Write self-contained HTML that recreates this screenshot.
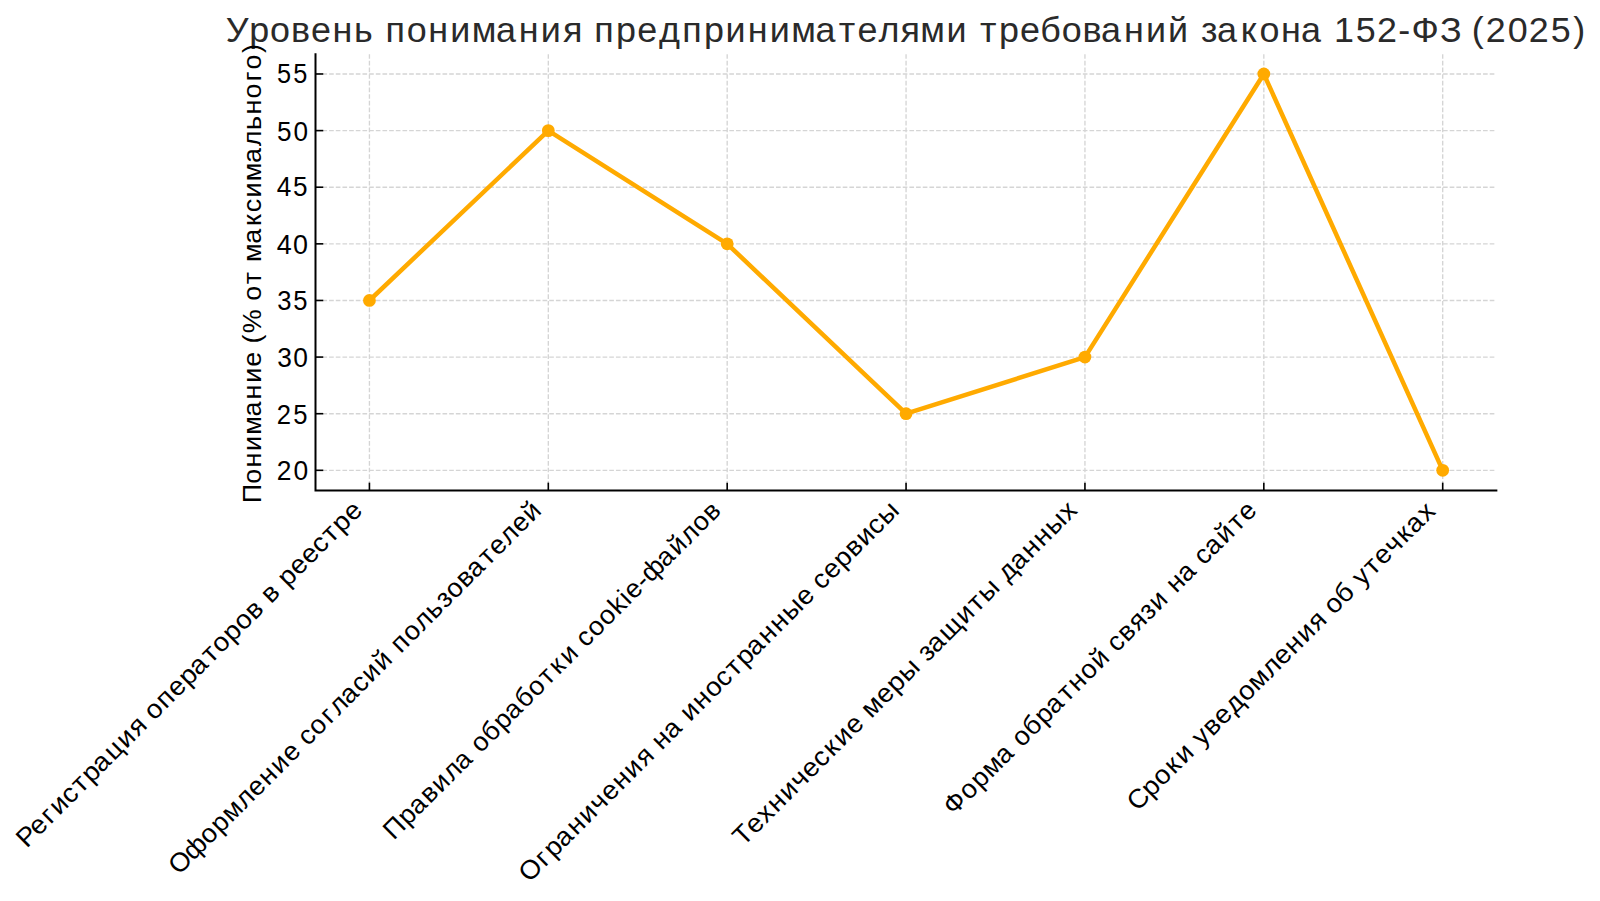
<!DOCTYPE html><html><head><meta charset="utf-8"><title>152-ФЗ</title><style>html,body{margin:0;padding:0;background:#fff;width:1600px;height:901px;overflow:hidden}svg{display:block}text{font-family:"Liberation Sans",sans-serif}</style></head><body>
<svg width="1600" height="901" viewBox="0 0 1600 901">
<rect width="1600" height="901" fill="#fff"/>
<g stroke="#d5d5d5" stroke-width="1.35" stroke-dasharray="4.66 2.01" fill="none">
<line x1="315.77" y1="470.32" x2="1496.36" y2="470.32"/>
<line x1="315.77" y1="413.70" x2="1496.36" y2="413.70"/>
<line x1="315.77" y1="357.08" x2="1496.36" y2="357.08"/>
<line x1="315.77" y1="300.46" x2="1496.36" y2="300.46"/>
<line x1="315.77" y1="243.84" x2="1496.36" y2="243.84"/>
<line x1="315.77" y1="187.22" x2="1496.36" y2="187.22"/>
<line x1="315.77" y1="130.60" x2="1496.36" y2="130.60"/>
<line x1="315.77" y1="73.98" x2="1496.36" y2="73.98"/>
<line x1="369.43" y1="54.16" x2="369.43" y2="490.14"/>
<line x1="548.31" y1="54.16" x2="548.31" y2="490.14"/>
<line x1="727.19" y1="54.16" x2="727.19" y2="490.14"/>
<line x1="906.06" y1="54.16" x2="906.06" y2="490.14"/>
<line x1="1084.94" y1="54.16" x2="1084.94" y2="490.14"/>
<line x1="1263.82" y1="54.16" x2="1263.82" y2="490.14"/>
<line x1="1442.70" y1="54.16" x2="1442.70" y2="490.14"/>
</g>
<polyline points="369.43,300.46 548.31,130.60 727.19,243.84 906.06,413.70 1084.94,357.08 1263.82,73.98 1442.70,470.32" fill="none" stroke="#ffaa00" stroke-width="4.5" stroke-linejoin="round" stroke-linecap="square"/>
<circle cx="369.43" cy="300.46" r="6.4" fill="#ffaa00"/>
<circle cx="548.31" cy="130.60" r="6.4" fill="#ffaa00"/>
<circle cx="727.19" cy="243.84" r="6.4" fill="#ffaa00"/>
<circle cx="906.06" cy="413.70" r="6.4" fill="#ffaa00"/>
<circle cx="1084.94" cy="357.08" r="6.4" fill="#ffaa00"/>
<circle cx="1263.82" cy="73.98" r="6.4" fill="#ffaa00"/>
<circle cx="1442.70" cy="470.32" r="6.4" fill="#ffaa00"/>
<g stroke="#000" fill="none">
<path d="M315.50 54.16 V490.50 H1496.36" stroke-width="2" stroke-linejoin="miter" stroke-linecap="square"/>
<line x1="315.77" y1="470.32" x2="323.27" y2="470.32" stroke-width="1.6"/>
<line x1="315.77" y1="413.70" x2="323.27" y2="413.70" stroke-width="1.6"/>
<line x1="315.77" y1="357.08" x2="323.27" y2="357.08" stroke-width="1.6"/>
<line x1="315.77" y1="300.46" x2="323.27" y2="300.46" stroke-width="1.6"/>
<line x1="315.77" y1="243.84" x2="323.27" y2="243.84" stroke-width="1.6"/>
<line x1="315.77" y1="187.22" x2="323.27" y2="187.22" stroke-width="1.6"/>
<line x1="315.77" y1="130.60" x2="323.27" y2="130.60" stroke-width="1.6"/>
<line x1="315.77" y1="73.98" x2="323.27" y2="73.98" stroke-width="1.6"/>
<line x1="369.43" y1="490.14" x2="369.43" y2="482.64" stroke-width="1.6"/>
<line x1="548.31" y1="490.14" x2="548.31" y2="482.64" stroke-width="1.6"/>
<line x1="727.19" y1="490.14" x2="727.19" y2="482.64" stroke-width="1.6"/>
<line x1="906.06" y1="490.14" x2="906.06" y2="482.64" stroke-width="1.6"/>
<line x1="1084.94" y1="490.14" x2="1084.94" y2="482.64" stroke-width="1.6"/>
<line x1="1263.82" y1="490.14" x2="1263.82" y2="482.64" stroke-width="1.6"/>
<line x1="1442.70" y1="490.14" x2="1442.70" y2="482.64" stroke-width="1.6"/>
</g>
<text transform="translate(227.48 41.64) scale(1.0182 1)" font-size="35.26" fill="#2a2a2a" x="-1.61 21.26 41.81 62.31 81.92 103.05 124.32 143.68 155.21 176.03 197.16 218.75 239.85 263.67 286.09 307.68 329.42 348.76 360.29 381.69 402.36 423.69 446.70 468.10 489.23 511.05 532.64 553.74 577.56 600.45 618.73 639.42 661.06 680.44 706.10 727.16 738.97 757.71 778.38 798.24 819.29 839.78 858.02 880.44 902.03 923.67 944.73 956.03 971.76 995.05 1013.52 1034.65 1054.41 1076.07 1086.86 1108.09 1128.96 1149.94 1162.75 1190.80 1212.22 1222.14 1235.74 1257.36 1278.11 1299.60 1321.65" y="0">Уровень понимания предпринимателями требований закона 152-ФЗ (2025)</text>
<text transform="translate(260.99 503.17) rotate(-90) scale(1.0155 1)" font-size="26.52" fill="#000000" x="-0.12 19.19 35.13 51.41 67.33 85.29 102.19 118.48 134.44 149.80 157.29 167.41 191.44 199.42 215.71 229.41 237.43 255.39 272.96 286.55 301.14 317.05 335.01 351.59 367.59 382.76 398.61 415.41 427.16 443.37" y="0">Понимание (% от максимального)</text>
<text transform="translate(276.39 479.58) scale(0.9589 1)" font-size="27.54" fill="#000000" x="0.44 17.72" y="0">20</text>
<text transform="translate(276.16 423.58) scale(0.9308 1)" font-size="27.54" fill="#000000" x="0.69 18.37" y="0">25</text>
<text transform="translate(276.35 366.58) scale(0.9568 1)" font-size="27.54" fill="#000000" x="0.85 17.77" y="0">30</text>
<text transform="translate(276.12 309.58) scale(0.9293 1)" font-size="27.54" fill="#000000" x="1.10 18.42" y="0">35</text>
<text transform="translate(276.20 253.58) scale(0.9761 1)" font-size="27.54" fill="#000000" x="0.64 17.27" y="0">40</text>
<text transform="translate(275.97 196.41) scale(0.9495 1)" font-size="27.54" fill="#000000" x="0.87 17.86" y="0">45</text>
<text transform="translate(276.34 140.58) scale(0.9487 1)" font-size="27.54" fill="#000000" x="0.78 17.99" y="0">50</text>
<text transform="translate(276.11 83.41) scale(0.9212 1)" font-size="27.54" fill="#000000" x="1.03 18.65" y="0">55</text>
<text transform="translate(27.42 847.92) rotate(-45) scale(1.0356 1)" font-size="26.52" fill="#000000" x="-1.02 15.10 31.62 43.53 58.78 73.58 87.41 101.68 118.27 134.90 150.99 165.35 173.11 188.88 204.36 219.85 234.12 251.08 264.49 279.98 295.18 310.35 324.83 332.69 347.17 355.35 370.65 385.80 400.54 415.33 429.17 444.46" y="0">Регистрация операторов в реестре</text>
<text transform="translate(179.30 875.39) rotate(-45) scale(1.0194 1)" font-size="26.52" fill="#000000" x="-0.46 19.48 41.36 57.10 72.57 91.66 107.49 123.36 139.58 155.49 170.80 178.41 192.50 209.25 221.19 235.99 251.92 266.45 282.71 298.54 307.19 322.83 338.39 354.33 369.41 382.17 397.57 411.28 428.47 442.20 457.75 473.58 489.32" y="0">Оформление согласий пользователей</text>
<text transform="translate(393.69 840.67) rotate(-45) scale(1.0069 1)" font-size="26.52" fill="#000000" x="-0.03 19.87 34.55 51.12 66.39 82.65 97.64 114.07 122.16 137.27 153.72 168.40 184.48 200.48 216.90 231.97 246.47 262.45 270.19 284.46 299.96 315.97 330.32 337.24 352.51 361.42 382.58 399.49 415.75 431.69 447.28" y="0">Правила обработки cookie-файлов</text>
<text transform="translate(529.68 882.81) rotate(-45) scale(1.0286 1)" font-size="26.52" fill="#000000" x="-0.55 21.18 33.18 47.55 64.25 80.32 96.12 110.73 126.46 142.54 158.74 173.17 181.58 196.28 212.45 220.72 236.97 252.61 267.45 282.34 296.28 310.64 327.34 343.55 359.26 378.85 394.06 401.57 415.61 431.21 446.61 461.56 476.91 490.93" y="0">Ограничения на иностранные сервисы</text>
<text transform="translate(743.74 846.50) rotate(-45) scale(1.0381 1)" font-size="26.52" fill="#000000" x="-0.59 15.24 30.70 45.36 61.29 76.94 91.42 106.13 121.17 135.22 150.84 165.94 173.67 192.29 207.74 222.95 242.38 250.67 262.24 278.67 301.79 318.26 331.68 351.10 359.54 374.88 391.43 407.49 423.03 442.82" y="0">Технические меры защиты данных</text>
<text transform="translate(953.30 816.72) rotate(-45) scale(1.0154 1)" font-size="26.52" fill="#000000" x="0.73 21.93 37.74 53.28 71.24 87.57 95.56 110.54 126.85 141.41 158.67 172.95 188.79 204.60 220.47 228.12 242.37 257.58 272.72 285.97 301.85 310.41 325.31 341.64 349.29 362.49 379.27 396.08 409.87" y="0">Форма обратной связи на сайте</text>
<text transform="translate(1138.20 811.20) rotate(-45) scale(1.0345 1)" font-size="26.52" fill="#000000" x="-1.11 17.81 33.03 49.33 63.43 79.08 87.34 101.53 116.05 131.84 148.17 163.25 182.10 197.69 213.33 229.31 245.42 259.79 267.56 282.26 297.90 306.16 321.20 334.71 349.91 365.57 378.30 394.78" y="0">Сроки уведомления об утечках</text>
</svg></body></html>
